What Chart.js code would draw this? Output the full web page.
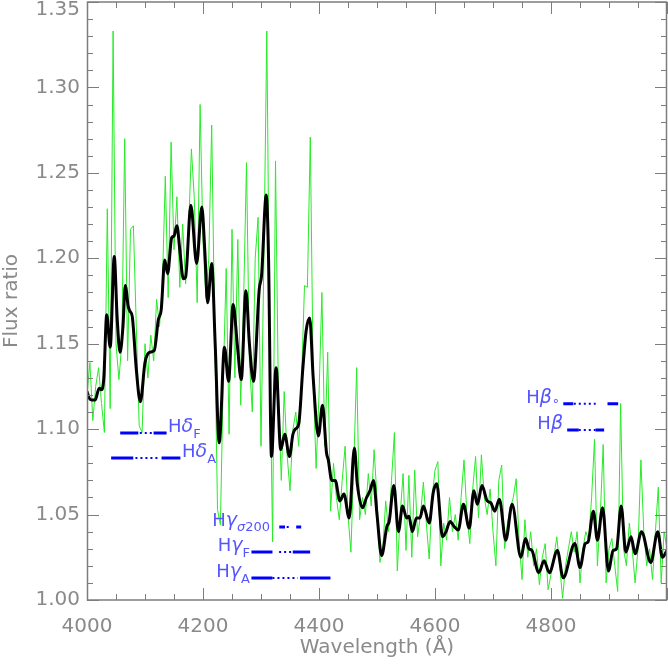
<!DOCTYPE html>
<html>
<head>
<meta charset="utf-8">
<script src="https://cdn.jsdelivr.net/npm/chart.js@4.4.1/dist/chart.umd.min.js"></script>
<style>
  html, body { margin: 0; padding: 0; background: #fff; }
  #spec { display: block; }
</style>
</head>
<body>
<canvas id="spec" width="668" height="668"></canvas>
<script>
// green: raw flux ratio, sampled every 5 A from 4000 to 5000
const greenStart = 4000;
const greenStep = 5;
const greenFlux = [
  1.120, 1.139, 1.105, 1.125, 1.136, 1.115, 1.098, 1.229, 1.112, 1.333,
  1.150, 1.129, 1.150, 1.270, 1.140, 1.217, 1.219, 1.160, 1.102, 1.098,
  1.150, 1.130, 1.155, 1.140, 1.176, 1.160, 1.185, 1.248, 1.177, 1.268,
  1.205, 1.236, 1.183, 1.220, 1.185, 1.215, 1.264, 1.235, 1.174, 1.290,
  1.210, 1.177, 1.200, 1.278, 1.160, 1.053, 1.044, 1.130, 1.194, 1.097,
  1.217, 1.130, 1.211, 1.114, 1.175, 1.256, 1.140, 1.110, 1.200, 1.224,
  1.090, 1.200, 1.333, 1.150, 1.034, 1.257, 1.120, 1.070, 1.122, 1.085,
  1.064, 1.100, 1.110, 1.090, 1.130, 1.184, 1.183, 1.271, 1.130, 1.077,
  1.120, 1.180, 1.090, 1.145, 1.052, 1.080, 1.060, 1.047, 1.070, 1.090,
  1.050, 1.028, 1.080, 1.136, 1.047, 1.060, 1.050, 1.074, 1.055, 1.088,
  1.060, 1.022, 1.030, 1.058, 1.040, 1.070, 1.098, 1.017, 1.050, 1.074,
  1.029, 1.073, 1.025, 1.076, 1.037, 1.050, 1.069, 1.045, 1.024, 1.060,
  1.076, 1.081, 1.020, 1.045, 1.035, 1.060, 1.040, 1.050, 1.035, 1.060,
  1.082, 1.050, 1.033, 1.065, 1.084, 1.048, 1.085, 1.060, 1.050, 1.065,
  1.040, 1.020, 1.070, 1.079, 1.030, 1.045, 1.054, 1.060, 1.071, 1.035,
  1.012, 1.047, 1.025, 1.040, 1.020, 1.030, 1.009, 1.025, 1.033, 1.006,
  1.015, 1.025, 1.037, 1.020, 1.001, 1.020, 1.030, 1.040, 1.028, 1.040,
  1.010, 1.030, 1.040, 1.035, 1.060, 1.094, 1.020, 1.050, 1.091, 1.010,
  1.030, 1.036, 1.020, 1.005, 1.115, 1.030, 1.020, 1.045, 1.030, 1.010,
  1.030, 1.082, 1.040, 1.020, 1.030, 1.012, 1.040, 1.066, 1.010, 1.040,
  1.030
];

// black: smoothed flux ratio
const blackWave = [
  4000, 4004, 4008, 4014, 4021, 4025, 4029, 4034, 4040, 4047,
  4052, 4057, 4062, 4066, 4071, 4074, 4078, 4085, 4092, 4100,
  4108, 4116, 4123, 4128, 4134, 4139, 4146, 4150, 4155, 4160,
  4166, 4170, 4179, 4189, 4198, 4203, 4208, 4215, 4221, 4228,
  4237, 4244, 4252, 4259, 4266, 4274, 4280, 4287, 4297, 4301,
  4309, 4313, 4318, 4326, 4334, 4341, 4349, 4355, 4359, 4365,
  4372, 4378, 4384, 4390, 4399, 4406, 4413, 4416, 4422, 4428,
  4436, 4443, 4452, 4461, 4466, 4475, 4482, 4488, 4494, 4500,
  4508, 4517, 4521, 4529, 4537, 4544, 4551, 4555, 4561, 4568,
  4574, 4580, 4590, 4597, 4603, 4613, 4619, 4626, 4633, 4640,
  4649, 4659, 4667, 4673, 4681, 4690, 4696, 4703, 4711, 4722,
  4733, 4748, 4756, 4762, 4767, 4779, 4788, 4797, 4811, 4821,
  4841, 4850, 4859, 4864, 4873, 4880, 4889, 4899, 4907, 4913,
  4921, 4929, 4938, 4945, 4956, 4972, 4984, 4992, 5000
];
const blackFlux = [
  1.122, 1.118, 1.117, 1.117, 1.124, 1.123, 1.130, 1.167, 1.148, 1.201,
  1.165, 1.145, 1.160, 1.184, 1.172, 1.169, 1.166, 1.135, 1.116, 1.139,
  1.145, 1.146, 1.164, 1.170, 1.199, 1.191, 1.212, 1.213, 1.219, 1.205,
  1.188, 1.189, 1.231, 1.197, 1.230, 1.205, 1.174, 1.197, 1.150, 1.092,
  1.148, 1.128, 1.173, 1.150, 1.129, 1.181, 1.150, 1.128, 1.182, 1.190,
  1.237, 1.200, 1.084, 1.136, 1.088, 1.097, 1.084, 1.097, 1.100, 1.103,
  1.135, 1.158, 1.165, 1.130, 1.096, 1.114, 1.086, 1.082, 1.070, 1.070,
  1.058, 1.062, 1.048, 1.089, 1.068, 1.054, 1.060, 1.064, 1.070, 1.050,
  1.026, 1.043, 1.046, 1.067, 1.040, 1.055, 1.048, 1.049, 1.040, 1.048,
  1.048, 1.055, 1.045, 1.063, 1.068, 1.037, 1.040, 1.046, 1.043, 1.041,
  1.056, 1.042, 1.064, 1.056, 1.067, 1.058, 1.057, 1.052, 1.059, 1.035,
  1.056, 1.025, 1.036, 1.030, 1.029, 1.016, 1.023, 1.016, 1.029, 1.013,
  1.033, 1.019, 1.033, 1.034, 1.052, 1.035, 1.054, 1.017, 1.029, 1.030,
  1.055, 1.028, 1.037, 1.027, 1.040, 1.022, 1.040, 1.025, 1.029
];

// index definitions: blue continuum, feature band, red continuum (A)
const indexMain = ['δ', 'δ', 'γ', 'γ', 'γ', 'β', 'β'];
const indexSub = ['F', 'A', 'σ200', 'F', 'A', 'o', ''];
const blueLo = [4057.25, 4041.6, 4331.5, 4283.5, 4283.5, 4821.2, 4827.9];
const blueHi = [4088.5, 4079.75, 4341.4, 4319.75, 4319.75, 4838.4, 4847.9];
const bandLo = [4091.0, 4083.5, 4344.3, 4331.25, 4319.75, 4839.3, 4847.9];
const bandHi = [4112.25, 4122.25, 4352.9, 4352.25, 4363.5, 4877.1, 4876.6];
const redLo = [4114.75, 4128.5, 4360.7, 4354.75, 4367.25, 4897.4, 4876.6];
const redHi = [4137.25, 4161.0, 4369.3, 4384.75, 4419.75, 4915.8, 4891.6];
const indexLevel = [1.0978, 1.0831, 1.0427, 1.0281, 1.0129, 1.1148, 1.0995];
const labelAt = [4139.7, 4163.8, 4315.5, 4281.0, 4281.0, 4815.5, 4820.7];
const labelAlign = ['left', 'left', 'right', 'right', 'right', 'right', 'right'];

const xTicks = [4000, 4200, 4400, 4600, 4800];
const yTicks = [1.00, 1.05, 1.10, 1.15, 1.20, 1.25, 1.30, 1.35];

const axisGrey = '#8a8a8a';
const labelBlue = '#5555ff';
const thinFamily = '"DejaVu Sans ExtraLight", "DejaVu Sans"';

const greenPts = greenFlux.map((f, i) => ({ x: greenStart + i * greenStep, y: f }));
const blackPts = blackWave.map((w, i) => ({ x: w, y: blackFlux[i] }));

const barPts = [];
const dotPts = [];
indexLevel.forEach((lv, i) => {
    barPts.push({ x: blueLo[i], y: lv }, { x: blueHi[i], y: lv }, { x: blueHi[i], y: null });
    barPts.push({ x: redLo[i], y: lv }, { x: redHi[i], y: lv }, { x: redHi[i], y: null });
    dotPts.push({ x: bandLo[i], y: lv }, { x: bandHi[i], y: lv }, { x: bandHi[i], y: null });
});

// box with inward major and minor ticks on all four sides, plus y labels
const boxTicks = {
    id: 'boxTicks',
    afterDraw(chart) {
        const { ctx, chartArea: a, scales: { x, y } } = chart;
        ctx.save();
        ctx.strokeStyle = '#7d7d7d';
        ctx.lineWidth = 1.5;
        ctx.strokeRect(a.left + 0.5, a.top, a.right - a.left - 1, a.bottom - a.top);
        ctx.lineWidth = 1;
        ctx.beginPath();
        for (let k = 0; k <= 20; k++) {
            const px = Math.round(x.getPixelForValue(4000 + k * 50)) + 0.5;
            const len = k % 4 === 0 ? 12 : 6;
            ctx.moveTo(px, a.bottom); ctx.lineTo(px, a.bottom - len);
            ctx.moveTo(px, a.top); ctx.lineTo(px, a.top + len);
        }
        for (let k = 0; k <= 35; k++) {
            const py = Math.round(y.getPixelForValue(1 + k * 0.01)) + 0.5;
            const len = k % 5 === 0 ? 12 : 6;
            ctx.moveTo(a.left, py); ctx.lineTo(a.left + len, py);
            ctx.moveTo(a.right, py); ctx.lineTo(a.right - len, py);
        }
        ctx.stroke();

        // y tick labels, the top one kept inside the canvas
        ctx.fillStyle = axisGrey;
        ctx.font = '20px ' + thinFamily;
        ctx.textAlign = 'right';
        ctx.textBaseline = 'middle';
        yTicks.forEach(v => {
            const py = Math.max(y.getPixelForValue(v), 10);
            ctx.fillText(v.toFixed(2), a.left - 7, py);
        });
        ctx.restore();
    }
};

// H + greek letter + subscript labels next to the index bars
const indexLabels = {
    id: 'indexLabels',
    afterDatasetsDraw(chart) {
        const { ctx, scales: { x, y } } = chart;
        ctx.save();
        ctx.fillStyle = labelBlue;
        ctx.textBaseline = 'alphabetic';
        indexMain.forEach((g, i) => {
            const parts = [
                { t: 'H', font: '18px ' + thinFamily, dy: 0 },
                { t: g, font: 'italic 19px "DejaVu Sans"', dy: 0 }
            ];
            const sub = indexSub[i];
            if (sub.startsWith('σ')) {
                parts.push({ t: 'σ', font: 'italic 13px "DejaVu Sans"', dy: 5 });
                parts.push({ t: sub.slice(1), font: '13px ' + thinFamily, dy: 5 });
            } else if (sub === 'o') {
                parts.push({ t: '∘', font: '13px "DejaVu Sans"', dy: 2 });
            } else if (sub) {
                parts.push({ t: sub, font: '13px ' + thinFamily, dy: 6 });
            }
            let w = 0;
            parts.forEach(p => { ctx.font = p.font; p.w = ctx.measureText(p.t).width; w += p.w; });
            let cx = x.getPixelForValue(labelAt[i]);
            if (labelAlign[i] === 'right') cx -= w;
            const base = y.getPixelForValue(indexLevel[i]) - 1;
            parts.forEach(p => {
                ctx.font = p.font;
                ctx.fillText(p.t, cx, base + p.dy);
                cx += p.w;
            });
        });
        ctx.restore();
    }
};

const tickFont = { family: thinFamily, size: 20 };

new Chart(document.getElementById('spec').getContext('2d'), {
    type: 'line',
    data: {
        datasets: [
            {
                data: greenPts,
                borderColor: 'rgb(40, 235, 40)',
                borderWidth: 1,
                pointRadius: 0,
                tension: 0,
                order: 3
            },
            {
                data: blackPts,
                borderColor: '#000',
                borderWidth: 3,
                pointRadius: 0,
                cubicInterpolationMode: 'monotone',
                order: 2
            },
            {
                data: barPts,
                borderColor: '#0000ff',
                borderWidth: 3,
                pointRadius: 0,
                spanGaps: false,
                borderCapStyle: 'butt',
                order: 1
            },
            {
                data: dotPts,
                borderColor: '#0000ff',
                borderWidth: 2,
                borderDash: [2, 3],
                pointRadius: 0,
                spanGaps: false,
                order: 1
            }
        ]
    },
    options: {
        responsive: false,
        animation: false,
        layout: { padding: { top: 2, right: 1, left: 0, bottom: 0 } },
        plugins: { legend: { display: false }, tooltip: { enabled: false } },
        scales: {
            x: {
                type: 'linear',
                min: 4000,
                max: 5000,
                grid: { display: false, drawTicks: false },
                border: { display: false },
                afterBuildTicks: s => { s.ticks = xTicks.map(v => ({ value: v })); },
                ticks: {
                    autoSkip: false,
                    maxRotation: 0,
                    padding: 15,
                    color: axisGrey,
                    font: tickFont,
                    callback: v => String(v)
                },
                title: {
                    display: true,
                    text: 'Wavelength (Å)',
                    color: axisGrey,
                    font: tickFont,
                    padding: { top: 0, bottom: 8 }
                },
                afterFit: s => {
                    s.height = 68;
                    s.paddingLeft = 0;
                    s.paddingRight = 0;
                }
            },
            y: {
                min: 1.0,
                max: 1.35,
                grid: { display: false, drawTicks: false },
                border: { display: false },
                afterBuildTicks: s => { s.ticks = yTicks.map(v => ({ value: v })); },
                ticks: { display: false },
                title: {
                    display: true,
                    text: 'Flux ratio',
                    color: axisGrey,
                    font: tickFont,
                    padding: { top: 0, bottom: 0 }
                },
                afterFit: s => {
                    s.width = 87;
                    s.paddingTop = 0;
                    s.paddingBottom = 0;
                }
            }
        }
    },
    plugins: [boxTicks, indexLabels]
});
</script>
</body>
</html>
